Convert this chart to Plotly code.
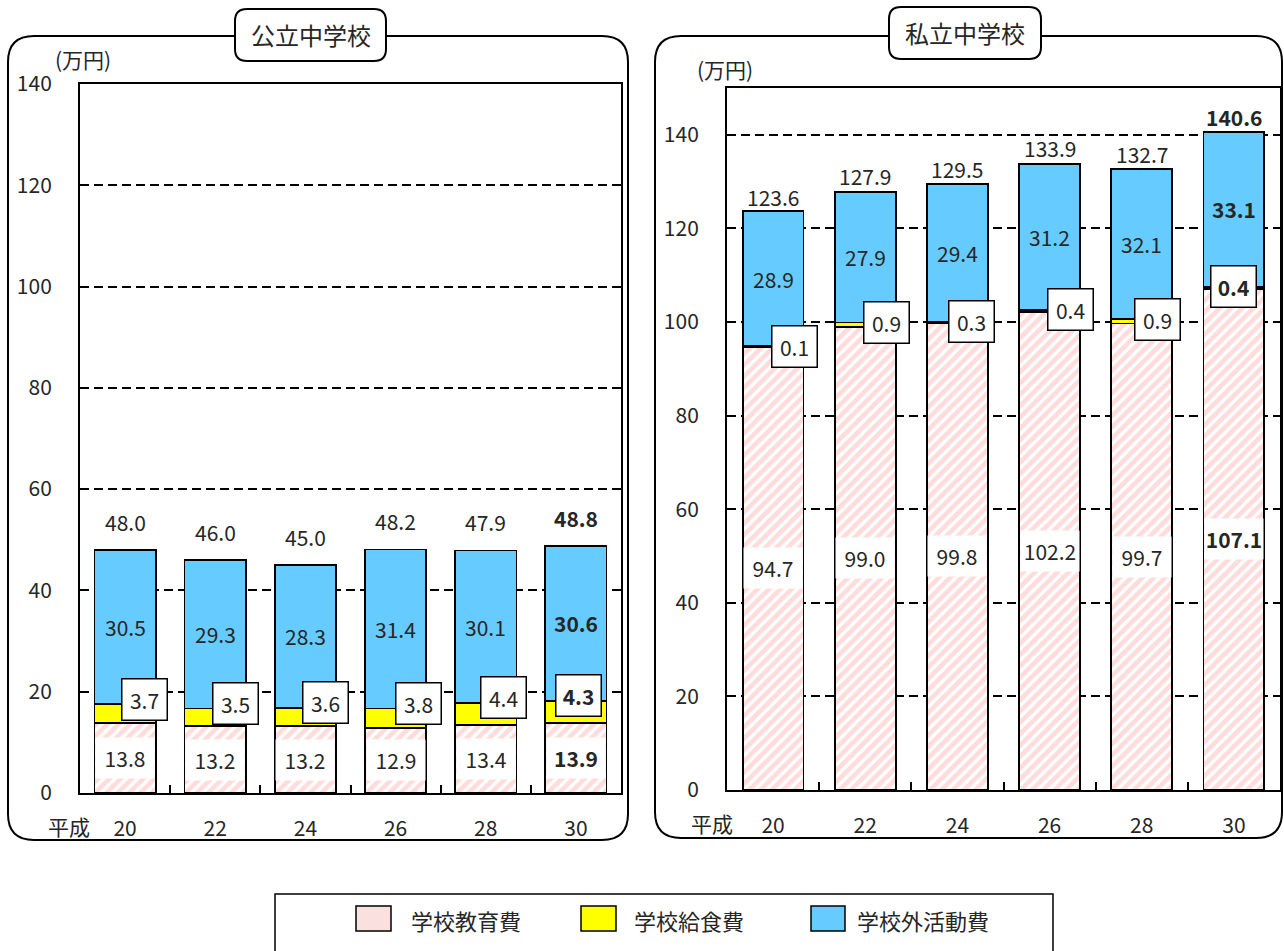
import plotly.graph_objects as go

# ---------------- data ----------------
years = ["20", "22", "24", "26", "28", "30"]
era_label = "平成"
series_names = ["学校教育費", "学校給食費", "学校外活動費"]
panel_titles = ["公立中学校", "私立中学校"]
unit_label = "(万円)"

pub_edu = [13.8, 13.2, 13.2, 12.9, 13.4, 13.9]
pub_lunch = [3.7, 3.5, 3.6, 3.8, 4.4, 4.3]
pub_out = [30.5, 29.3, 28.3, 31.4, 30.1, 30.6]
pub_total = [48.0, 46.0, 45.0, 48.2, 47.9, 48.8]

pri_edu = [94.7, 99.0, 99.8, 102.2, 99.7, 107.1]
pri_lunch = [0.1, 0.9, 0.3, 0.4, 0.9, 0.4]
pri_out = [28.9, 27.9, 29.4, 31.2, 32.1, 33.1]
pri_total = [123.6, 127.9, 129.5, 133.9, 132.7, 140.6]

y_ticks = [0, 20, 40, 60, 80, 100, 120, 140]

# ---------------- styles ----------------
W, H = 1284, 951
FONT = "Noto Sans CJK JP"
TXT = "#262626"
PINK = "#ffb9b9"
YELLOW = "#ffff00"
BLUE = "#66ccff"


def px(x):
    return x / W


def py(y):
    return 1 - y / H


def rrect_path(x0, y0, x1, y1, r):
    def P(x, y):
        return f"{px(x):.5f},{py(y):.5f}"
    return (f"M{P(x0 + r, y0)} L{P(x1 - r, y0)} Q{P(x1, y0)} {P(x1, y0 + r)} "
            f"L{P(x1, y1 - r)} Q{P(x1, y1)} {P(x1 - r, y1)} L{P(x0 + r, y1)} "
            f"Q{P(x0, y1)} {P(x0, y1 - r)} L{P(x0, y0 + r)} Q{P(x0, y0)} {P(x0 + r, y0)} Z")


def paper_text(x, y, text, size, xanchor="center"):
    return dict(x=px(x), y=py(y), xref="paper", yref="paper", text=text,
                showarrow=False, xanchor=xanchor, yanchor="middle",
                font=dict(size=size, color=TXT, family=FONT))


panels = [
    dict(edu=pub_edu, lunch=pub_lunch, out=pub_out, total=pub_total,
         xa="x", ya="y", bw=0.68, tot_shift=28, lunch_yshift=5,
         lunch_xshift=[19, 20, 20, 23, 18, 3]),
    dict(edu=pri_edu, lunch=pri_lunch, out=pri_out, total=pri_total,
         xa="x2", ya="y2", bw=0.66, tot_shift=15, lunch_yshift=0,
         lunch_xshift=[21, 21, 14, 21, 16, 0]),
]

fig = go.Figure()
annotations = []

for p in panels:
    line = dict(color="black", width=1.8)
    fig.add_trace(go.Bar(
        x=years, y=p["edu"], name=series_names[0], xaxis=p["xa"], yaxis=p["ya"],
        width=p["bw"],
        marker=dict(color="white", line=line,
                    pattern=dict(shape="/", fgcolor=PINK, bgcolor="white",
                                 size=8, solidity=0.6)),
        hoverinfo="skip"))
    fig.add_trace(go.Bar(
        x=years, y=p["lunch"], name=series_names[1], xaxis=p["xa"], yaxis=p["ya"],
        width=p["bw"], marker=dict(color=YELLOW, line=line), hoverinfo="skip"))
    fig.add_trace(go.Bar(
        x=years, y=p["out"], name=series_names[2], xaxis=p["xa"], yaxis=p["ya"],
        width=p["bw"], marker=dict(color=BLUE, line=line), hoverinfo="skip"))

    n = len(years)
    for i in range(n):
        last = i == n - 1

        def fmt(v):
            s = f"{v:.1f}"
            return f"<b>{s}</b>" if last else s

        # education label (white box, no border)
        annotations.append(dict(
            x=i, y=p["edu"][i] / 2, xref=p["xa"], yref=p["ya"],
            text=fmt(p["edu"][i]), showarrow=False, bgcolor="white",
            width=58, height=40, borderpad=0,
            font=dict(size=21, color=TXT, family=FONT)))
        # outside activities label
        annotations.append(dict(
            x=i, y=p["edu"][i] + p["lunch"][i] + p["out"][i] / 2,
            xref=p["xa"], yref=p["ya"], text=fmt(p["out"][i]), showarrow=False,
            font=dict(size=21, color=TXT, family=FONT)))
        # lunch label (boxed)
        annotations.append(dict(
            x=i, y=p["edu"][i] + p["lunch"][i], xref=p["xa"], yref=p["ya"],
            text=fmt(p["lunch"][i]), showarrow=False, bgcolor="white",
            bordercolor="black", borderwidth=1.5, borderpad=1, width=42, height=38,
            xshift=p["lunch_xshift"][i], yshift=p["lunch_yshift"],
            font=dict(size=21, color=TXT, family=FONT)))
        # total label
        annotations.append(dict(
            x=i, y=p["total"][i], xref=p["xa"], yref=p["ya"],
            text=fmt(p["total"][i]), showarrow=False, yanchor="middle",
            yshift=p["tot_shift"],
            font=dict(size=21, color=TXT, family=FONT)))

# ---------------- frames, titles, legend ----------------
shapes = []
shapes.append(dict(type="path", xref="paper", yref="paper",
                   path=rrect_path(8, 36, 628, 840, 26),
                   line=dict(color="black", width=2), fillcolor="rgba(0,0,0,0)",
                   layer="below"))
shapes.append(dict(type="path", xref="paper", yref="paper",
                   path=rrect_path(655, 36, 1282, 838, 26),
                   line=dict(color="black", width=2), fillcolor="rgba(0,0,0,0)",
                   layer="below"))
shapes.append(dict(type="path", xref="paper", yref="paper",
                   path=rrect_path(235, 9, 386, 61, 12),
                   line=dict(color="black", width=2), fillcolor="white", layer="above"))
shapes.append(dict(type="path", xref="paper", yref="paper",
                   path=rrect_path(889, 7, 1041, 59, 12),
                   line=dict(color="black", width=2), fillcolor="white", layer="above"))

annotations.append(paper_text(310.5, 34, panel_titles[0], 24))
annotations.append(paper_text(965, 32, panel_titles[1], 24))

# unit labels and era label
for (ux, uy, ex, ey) in [(83, 59, 69, 826), (725, 69, 712, 823)]:
    annotations.append(paper_text(ux, uy, unit_label, 21))
    annotations.append(paper_text(ex, ey, era_label, 21))

# legend (drawn manually)
shapes.append(dict(type="rect", xref="paper", yref="paper",
                   x0=px(275), x1=px(1053), y0=py(960), y1=py(894),
                   line=dict(color="black", width=1.5), fillcolor="white"))
legend_items = [(356, 391, "#fbe0e0", 409), (581, 616, YELLOW, 632), (811, 845, BLUE, 855)]
for (sx0, sx1, col, tx), name in zip(legend_items, series_names):
    shapes.append(dict(type="rect", xref="paper", yref="paper",
                       x0=px(sx0), x1=px(sx1), y0=py(931), y1=py(906),
                       line=dict(color="black", width=1.5), fillcolor=col))
    annotations.append(paper_text(tx, 920, name, 22, xanchor="left"))

# ---------------- axes ----------------
xcommon = dict(type="category", range=[-0.5, 5.5], autorange=False,
               showline=True, linecolor="black", linewidth=2,
               mirror=True, ticks="inside", tickson="boundaries", ticklen=8,
               tickwidth=1.5, tickcolor="black", showgrid=False, tickangle=0,
               tickfont=dict(size=21, color=TXT, family=FONT), automargin=False,
               ticklabelstandoff=16, fixedrange=True)
ycommon = dict(showline=True, linecolor="black", linewidth=2, mirror=True,
               ticks="", showgrid=True, gridcolor="black", gridwidth=1.5,
               griddash="9px,5px", zeroline=False, tickvals=y_ticks,
               tickfont=dict(size=21, color=TXT, family=FONT), automargin=False,
               ticklabelstandoff=22, fixedrange=True, autorange=False)

fig.update_layout(
    width=W, height=H, margin=dict(l=0, r=0, t=0, b=0, pad=0, autoexpand=False),
    paper_bgcolor="white", plot_bgcolor="white",
    barmode="stack", showlegend=False,
    font=dict(family=FONT, color=TXT),
    xaxis=dict(xcommon, domain=[px(80), px(621)], anchor="y"),
    yaxis=dict(ycommon, domain=[py(793), py(84)], range=[0, 140], anchor="x"),
    xaxis2=dict(xcommon, domain=[px(727), px(1280)], anchor="y2"),
    yaxis2=dict(ycommon, domain=[py(790), py(88)], range=[0, 150], anchor="x2"),
    shapes=shapes, annotations=annotations,
)

fig.write_html("out.html", config={"displayModeBar": False},
               post_script="document.body.style.margin='0';")
